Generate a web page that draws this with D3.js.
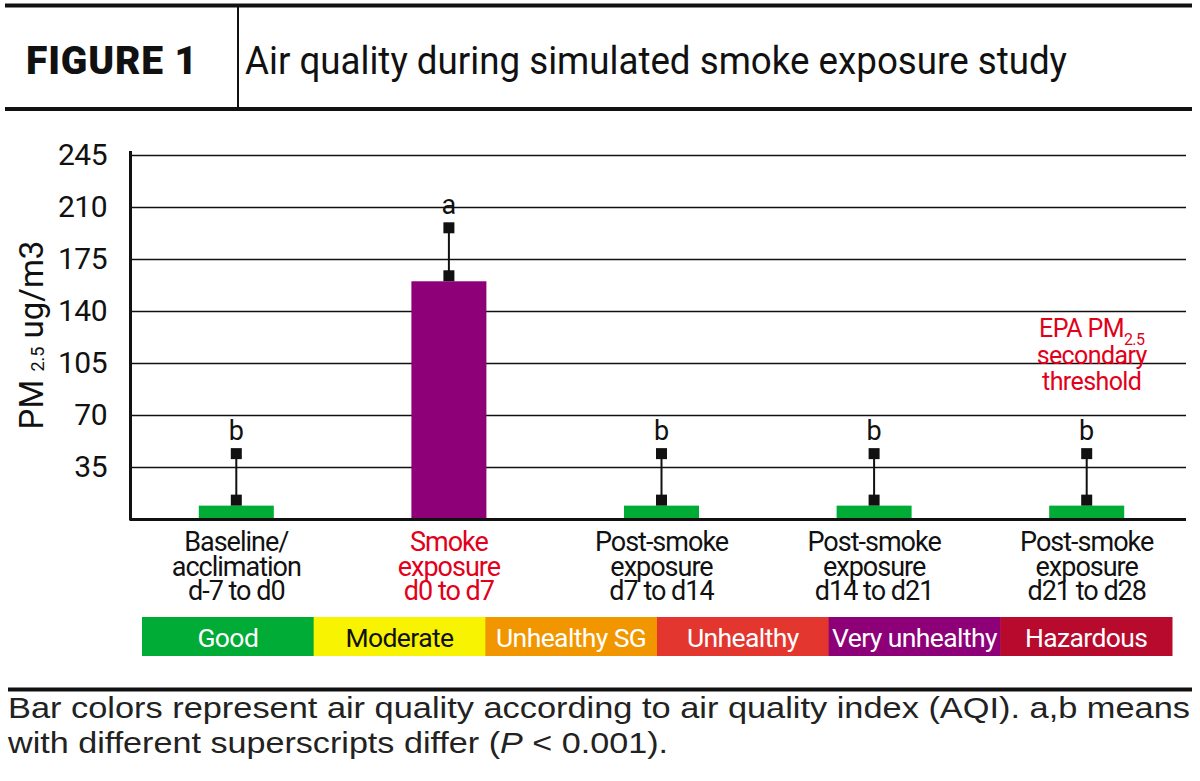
<!DOCTYPE html>
<html>
<head>
<meta charset="utf-8">
<script src="https://cdn.jsdelivr.net/npm/d3@7"></script>
<style>
  html, body { margin: 0; padding: 0; background: #fff; }
  svg { display: block; }
  text { font-family: Roboto, "Open Sans", sans-serif; fill: #111; }
</style>
</head>
<body>
<svg id="chart" width="1200" height="781"></svg>
<script>
// ---------------- DATA ----------------
const categories = ["Baseline/\nacclimation\nd-7 to d0", "Smoke\nexposure\nd0 to d7", "Post-smoke\nexposure\nd7 to d14", "Post-smoke\nexposure\nd14 to d21", "Post-smoke\nexposure\nd21 to d28"];
const pmMeans = [9, 160, 9, 9, 9];
const pmSD = [35, 36, 35, 35, 35];
const sigLetters = ["b", "a", "b", "b", "b"];
const barAQI = ["Good", "Very unhealthy", "Good", "Good", "Good"];
const highlightCategory = "Smoke\nexposure\nd0 to d7";
const aqiLevels = ["Good", "Moderate", "Unhealthy SG", "Unhealthy", "Very unhealthy", "Hazardous"];
const aqiColors = ["#00ab36", "#f8f300", "#f29600", "#e3362f", "#8d0078", "#b70a2c"];
const aqiTextColors = ["#fff", "#111", "#fff", "#fff", "#fff", "#fff"];
const yTicks = [35, 70, 105, 140, 175, 210, 245];
const figureLabel = "FIGURE 1";
const titleText = "Air quality during simulated smoke exposure study";
const thresholdLines = ["EPA PM|2.5", "secondary", "threshold"];
const captionLine1 = "Bar colors represent air quality according to air quality index (AQI). a,b means";

// ---------------- LAYOUT ----------------
const svg = d3.select("#chart");
const RED = "#e2001a";
const plotLeft = 130, plotRight = 1193, gridRight = 1186;

const x = d3.scaleBand().domain(categories).range([plotLeft, plotRight]).padding(0);
const y = d3.scaleLinear().domain([0, 245]).range([519, 155]);
const color = d3.scaleOrdinal().domain(aqiLevels).range(aqiColors);
const barW = 75;
const sq = 11;

// ---------------- HEADER ----------------
svg.append("line").attr("x1", 5).attr("x2", 1192).attr("y1", 5.5).attr("y2", 5.5)
  .attr("stroke", "#111").attr("stroke-width", 4);
svg.append("line").attr("x1", 5).attr("x2", 1192).attr("y1", 109).attr("y2", 109)
  .attr("stroke", "#111").attr("stroke-width", 4);
svg.append("line").attr("x1", 238).attr("x2", 238).attr("y1", 7).attr("y2", 107)
  .attr("stroke", "#111").attr("stroke-width", 2);
svg.append("text").attr("x", 26).attr("y", 74)
  .attr("font-size", 39).attr("font-weight", 900)
  .attr("textLength", 171).attr("lengthAdjust", "spacing")
  .text(figureLabel);
svg.append("text").attr("x", 245).attr("y", 74)
  .attr("font-size", 39).attr("font-weight", 400)
  .attr("textLength", 822).attr("lengthAdjust", "spacingAndGlyphs")
  .text(titleText);

// ---------------- GRID / Y AXIS ----------------
const yAxis = d3.axisLeft(y).tickValues(yTicks).tickSize(-(gridRight - plotLeft)).tickPadding(23);
const gy = svg.append("g").attr("transform", `translate(${plotLeft},0)`).call(yAxis);
gy.select(".domain").remove();
gy.selectAll(".tick line").attr("stroke", "#111").attr("stroke-width", 1.6);
gy.selectAll(".tick text").attr("font-size", 30).attr("fill", "#111")
  .attr("font-family", "Roboto, sans-serif").attr("letter-spacing", -0.5);

// y-axis title
const yl = svg.append("text").attr("transform", "translate(43,335) rotate(-90)")
  .attr("text-anchor", "middle").attr("font-size", 33);
yl.append("tspan").text("PM ");
yl.append("tspan").attr("font-size", 18).attr("dy", 1).text("2.5");
yl.append("tspan").attr("dy", -1).text(" ug/m3");

// axis lines
svg.append("line").attr("x1", plotLeft + 0.5).attr("x2", plotLeft + 0.5)
  .attr("y1", 151).attr("y2", y(0) + 1.5).attr("stroke", "#111").attr("stroke-width", 3);

// ---------------- BARS ----------------
const data = categories.map((c, i) => ({ c, mean: pmMeans[i], sd: pmSD[i], letter: sigLetters[i], aqi: barAQI[i] }));
const cx = d => x(d.c) + x.bandwidth() / 2;

svg.append("g").selectAll("rect").data(data).join("rect")
  .attr("x", d => cx(d) - barW / 2)
  .attr("width", barW)
  .attr("y", d => y(d.mean))
  .attr("height", d => y(0) - y(d.mean))
  .attr("fill", d => color(d.aqi));

svg.append("line").attr("x1", plotLeft).attr("x2", gridRight)
  .attr("y1", y(0) + 0.5).attr("y2", y(0) + 0.5).attr("stroke", "#111").attr("stroke-width", 3);

// error bars
const eb = svg.append("g").selectAll("g").data(data).join("g");
eb.append("line")
  .attr("x1", cx).attr("x2", cx)
  .attr("y1", d => y(d.mean) - sq / 2).attr("y2", d => y(d.mean + d.sd))
  .attr("stroke", "#111").attr("stroke-width", 2);
eb.append("rect")
  .attr("x", d => cx(d) - sq / 2).attr("y", d => y(d.mean) - sq)
  .attr("width", sq).attr("height", sq).attr("fill", "#111");
eb.append("rect")
  .attr("x", d => cx(d) - sq / 2).attr("y", d => y(d.mean + d.sd) - sq / 2)
  .attr("width", sq).attr("height", sq).attr("fill", "#111");
eb.append("text")
  .attr("x", cx).attr("y", d => y(d.mean + d.sd) - sq / 2 - 8)
  .attr("text-anchor", "middle").attr("font-size", 27)
  .text(d => d.letter);

// ---------------- X LABELS ----------------
const xl = svg.append("g").selectAll("text").data(categories).join("text")
  .attr("text-anchor", "middle").attr("font-size", 27).attr("letter-spacing", -1)
  .style("fill", d => d === highlightCategory ? RED : "#111");
xl.each(function (d) {
  const t = d3.select(this);
  d.split("\n").forEach((line, i) => {
    t.append("tspan").attr("x", x(d) + x.bandwidth() / 2).attr("y", 551 + i * 24.5).text(line);
  });
});

// ---------------- EPA THRESHOLD NOTE ----------------
const lastCat = categories[categories.length - 1];
const noteX = x(lastCat) + x.bandwidth() / 2 + 5;
const note = svg.append("text").attr("text-anchor", "middle")
  .attr("font-size", 25).attr("letter-spacing", -0.6).style("fill", RED);
thresholdLines.forEach((line, i) => {
  const [main, sub] = line.split("|");
  const yy = 337 + i * 26.5;
  note.append("tspan").attr("x", noteX).attr("y", yy).text(main);
  if (sub) {
    note.append("tspan").attr("dy", 8).attr("font-size", 16).text(sub);
  }
});

// ---------------- AQI LEGEND ----------------
const lx = d3.scaleBand().domain(aqiLevels).range([142, 1172]).padding(0);
const lg = svg.append("g").selectAll("g").data(aqiLevels).join("g");
lg.append("rect")
  .attr("x", d => lx(d)).attr("y", 617).attr("width", lx.bandwidth() + 0.5).attr("height", 39)
  .attr("fill", d => color(d));
lg.append("text")
  .attr("x", d => lx(d) + lx.bandwidth() / 2).attr("y", 647)
  .attr("text-anchor", "middle").attr("font-size", 26.5).attr("letter-spacing", -0.6)
  .style("fill", (d, i) => aqiTextColors[i])
  .text(d => d);

// ---------------- CAPTION ----------------
svg.append("line").attr("x1", 8).attr("x2", 1192).attr("y1", 689.5).attr("y2", 689.5)
  .attr("stroke", "#111").attr("stroke-width", 4);
const capFont = "'Liberation Sans', Arial, sans-serif";
svg.append("text").attr("x", 8).attr("y", 718).attr("font-size", 30)
  .style("font-family", capFont).style("fill", "#222")
  .attr("textLength", 1182).attr("lengthAdjust", "spacingAndGlyphs")
  .text(captionLine1);
const c2 = svg.append("text").attr("x", 8).attr("y", 753).attr("font-size", 30)
  .style("font-family", capFont).style("fill", "#222")
  .attr("textLength", 660).attr("lengthAdjust", "spacingAndGlyphs");
c2.append("tspan").text("with different superscripts differ (");
c2.append("tspan").attr("font-style", "italic").text("P");
c2.append("tspan").text(" < 0.001).");
</script>
</body>
</html>
